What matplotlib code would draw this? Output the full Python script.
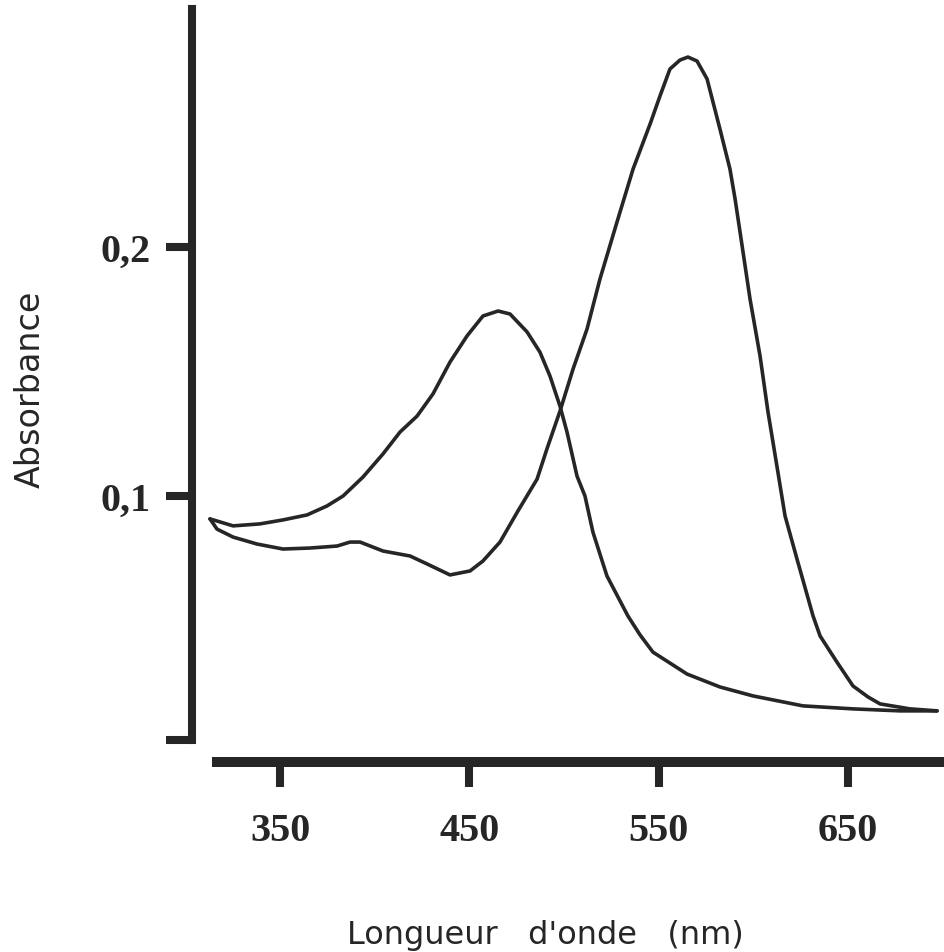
import numpy as np
import matplotlib
matplotlib.use("Agg")
import matplotlib.pyplot as plt

# spectre 1 : maximum vers 465 nm
nm_1 = [313.0, 325.2, 339.4, 351.6, 364.3, 374.8, 383.3, 393.8, 404.4, 413.4,
        422.4, 430.8, 439.8, 448.8, 457.2, 465.2, 471.5, 480.5, 487.3, 492.6,
        497.9, 501.6, 506.9, 511.1, 515.3, 522.7, 533.8, 540.2, 547.0, 565.0,
        582.4, 599.9, 626.3, 652.7, 677.5, 697.1]
abs_1 = [0.0908, 0.0880, 0.0888, 0.0904, 0.0924, 0.0960, 0.1000, 0.1076, 0.1169, 0.1257,
         0.1321, 0.1410, 0.1538, 0.1643, 0.1723, 0.1743, 0.1731, 0.1659, 0.1578, 0.1482,
         0.1361, 0.1257, 0.1080, 0.1000, 0.0855, 0.0679, 0.0518, 0.0442, 0.0373, 0.0285,
         0.0233, 0.0197, 0.0157, 0.0145, 0.0137, 0.0137]

# spectre 2 : maximum vers 565 nm
nm_2 = [313.0, 316.7, 325.2, 337.9, 351.6, 365.8, 380.1, 387.0, 392.3, 404.4,
        418.7, 427.7, 439.8, 450.4, 457.2, 466.2, 475.7, 485.8, 491.0, 497.9,
        504.8, 512.2, 519.0, 528.0, 536.5, 545.5, 550.7, 556.0, 561.3, 565.5,
        570.3, 575.6, 582.4, 587.7, 590.4, 594.6, 598.3, 603.6, 607.8, 612.5,
        616.8, 623.1, 631.6, 635.3, 644.2, 652.7, 660.6, 667.0, 682.8, 697.1]
abs_2 = [0.0908, 0.0867, 0.0835, 0.0807, 0.0787, 0.0791, 0.0799, 0.0815, 0.0815, 0.0779,
         0.0759, 0.0727, 0.0683, 0.0699, 0.0739, 0.0815, 0.0940, 0.1068, 0.1189, 0.1341,
         0.1510, 0.1671, 0.1871, 0.2100, 0.2313, 0.2494, 0.2606, 0.2715, 0.2751, 0.2763,
         0.2747, 0.2675, 0.2474, 0.2313, 0.2193, 0.1980, 0.1791, 0.1562, 0.1337, 0.1120,
         0.0920, 0.0747, 0.0518, 0.0438, 0.0333, 0.0237, 0.0193, 0.0165, 0.0145, 0.0137]

x_ticks = [350, 450, 550, 650]
x_labels = ['350', '450', '550', '650']
y_ticks = [0.002, 0.1, 0.2]
y_labels = ['', '0,1', '0,2']

ink = '#262626'
tick_font = dict(family='Liberation Serif', weight='bold', size=29)

fig = plt.figure(figsize=(9.45, 9.53), dpi=100)
W, H = 945, 953
ax = fig.add_axes([217 / W, 1 - 741 / H, (945 - 217) / W, (741 - 10) / H])

ax.plot(nm_1, abs_1, color=ink, lw=2.6, clip_on=False,
        solid_capstyle='round', solid_joinstyle='round')
ax.plot(nm_2, abs_2, color=ink, lw=2.6, clip_on=False,
        solid_capstyle='round', solid_joinstyle='round')

ax.set_xlim(316.7, 701.3)
ax.set_ylim(0.002, 0.2956)

for s in ['top', 'right']:
    ax.spines[s].set_visible(False)
ax.spines['left'].set_position(('outward', 18))
ax.spines['bottom'].set_position(('outward', 15.5))
ax.spines['left'].set_linewidth(5.8)
ax.spines['bottom'].set_linewidth(7.2)
ax.spines['left'].set_color(ink)
ax.spines['bottom'].set_color(ink)

ax.set_xticks(x_ticks)
ax.set_xticklabels(x_labels, fontdict=tick_font, color=ink)
ax.set_yticks(y_ticks)
ax.set_yticklabels(y_labels, fontdict=tick_font, color=ink)
ax.tick_params(axis='x', direction='out', length=18, width=5.8, pad=18, color=ink)
ax.tick_params(axis='y', direction='out', length=18.5, width=5.8, pad=11, color=ink)

fig.text(545 / W, 1 - 944 / H, "Longueur   d'onde   (nm)", ha='center', va='baseline',
         fontsize=23, family='DejaVu Sans', color=ink)
fig.text(30 / W, 1 - 389 / H, "Absorbance", ha='center', va='center', rotation=90,
         fontsize=24, family='DejaVu Sans', color=ink)

fig.savefig('out.png', dpi=100, facecolor='white')
